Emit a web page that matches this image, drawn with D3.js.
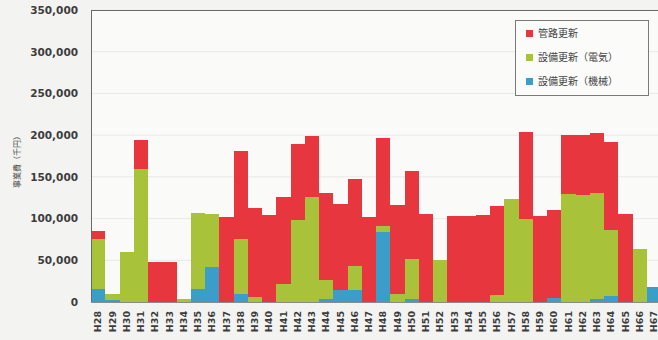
<!DOCTYPE html>
<html>
<head>
<meta charset="utf-8">
<script src="https://cdn.jsdelivr.net/npm/d3@7"></script>
<style>
  html, body { margin: 0; padding: 0; background: #f3f3f1; }
  svg { display: block; }
</style>
</head>
<body>
<svg id="chart" width="658" height="340"></svg>
<script>
// Fiscal years (Heisei era)
const years = ["H28","H29","H30","H31","H32","H33","H34","H35","H36","H37",
               "H38","H39","H40","H41","H42","H43","H44","H45","H46","H47",
               "H48","H49","H50","H51","H52","H53","H54","H55","H56","H57",
               "H58","H59","H60","H61","H62","H63","H64","H65","H66","H67"];

// 設備更新（機械）— thousand yen
const mechanical = [16000, 2000, 0, 0, 0, 0, 0, 16000, 42000, 0,
                    10000, 0, 0, 0, 0, 0, 4000, 14000, 14000, 0,
                    84000, 0, 4000, 0, 0, 0, 0, 0, 0, 0,
                    0, 0, 5000, 0, 0, 3000, 7000, 0, 0, 18000];

// 設備更新（電気）— thousand yen
const electrical = [59000, 7000, 60000, 159000, 0, 0, 4000, 91000, 64000, 0,
                    65000, 6000, 0, 22000, 98000, 126000, 22000, 0, 29000, 0,
                    7000, 10000, 47000, 0, 50000, 0, 0, 0, 8000, 123000,
                    100000, 0, 0, 130000, 128000, 128000, 79000, 0, 64000, 0];

// 管路更新 — thousand yen
const pipes = [10000, 0, 0, 35000, 48000, 48000, 0, 0, 0, 102000,
               106000, 107000, 104000, 104000, 91000, 73000, 105000, 104000, 105000, 102000,
               105000, 106000, 106000, 105000, 0, 103000, 103000, 104000, 107000, 0,
               104000, 103000, 105000, 70000, 72000, 71000, 106000, 105000, 0, 0];

const seriesNames = ["設備更新（機械）", "設備更新（電気）", "管路更新"];
const seriesColors = ["#3b9dca", "#a8c23a", "#e8363e"];
const legendOrder = ["管路更新", "設備更新（電気）", "設備更新（機械）"];
const yTicks = [0, 50000, 100000, 150000, 200000, 250000, 300000, 350000];

const rows = years.map((y, i) => ({
  year: y,
  "設備更新（機械）": mechanical[i],
  "設備更新（電気）": electrical[i],
  "管路更新": pipes[i]
}));

const svg = d3.select("#chart");
const margin = { left: 91, top: 10, right: -3, bottom: 38 };
const W = 658, H = 340;
const plotW = W - margin.left - margin.right;
const plotH = H - margin.top - margin.bottom;

const x = d3.scaleBand().domain(years).range([margin.left, margin.left + plotW]).padding(0);
const y = d3.scaleLinear().domain([0, 350000]).range([margin.top + plotH, margin.top]);
const color = d3.scaleOrdinal().domain(seriesNames).range(seriesColors);

// plot background
svg.append("rect")
  .attr("x", margin.left).attr("y", margin.top)
  .attr("width", plotW).attr("height", plotH)
  .attr("fill", "#fafaf9");

// faint horizontal gridlines
svg.append("g")
  .selectAll("line")
  .data(yTicks.slice(1))
  .join("line")
  .attr("x1", margin.left).attr("x2", margin.left + plotW)
  .attr("y1", d => y(d)).attr("y2", d => y(d))
  .attr("stroke", "#e9e9e7").attr("stroke-width", 1);

// stacked bars
const stacked = d3.stack().keys(seriesNames)(rows);
svg.append("g")
  .selectAll("g")
  .data(stacked)
  .join("g")
  .attr("fill", d => color(d.key))
  .selectAll("rect")
  .data(d => d)
  .join("rect")
  .attr("x", d => x(d.data.year))
  .attr("y", d => y(d[1]))
  .attr("width", x.bandwidth())
  .attr("height", d => y(d[0]) - y(d[1]))
  .attr("shape-rendering", "crispEdges");

// frame: top border and left axis line
svg.append("line")
  .attr("x1", margin.left).attr("x2", W)
  .attr("y1", margin.top + 0.5).attr("y2", margin.top + 0.5)
  .attr("stroke", "#6a6a6a").attr("stroke-width", 1);

// y axis
const yAxis = svg.append("g")
  .attr("transform", `translate(${margin.left},0)`)
  .call(d3.axisLeft(y).tickValues(yTicks).tickFormat(d3.format(",")).tickSize(0).tickPadding(13));
yAxis.select(".domain").attr("stroke", "#6a6a6a");
yAxis.selectAll("text")
  .attr("font-family", "'DejaVu Sans', Verdana, sans-serif")
  .attr("font-size", "10.5px")
  .attr("font-weight", "bold")
  .attr("fill", "#3c3c3c");

// x axis
const xAxis = svg.append("g")
  .attr("transform", `translate(0,${margin.top + plotH})`)
  .call(d3.axisBottom(x).tickSize(0).tickPadding(0));
xAxis.select(".domain").attr("stroke", "#8a8a8a");
xAxis.selectAll("text")
  .attr("font-family", "'DejaVu Sans', Verdana, sans-serif")
  .attr("font-size", "9.5px")
  .attr("font-weight", "bold")
  .attr("fill", "#3c3c3c")
  .attr("text-anchor", "end")
  .attr("dy", "0.35em")
  .attr("transform", "translate(0,9) rotate(-90)")
  .attr("x", 0).attr("y", 0);

// y axis title
svg.append("text")
  .attr("transform", "translate(17,160) rotate(-90)")
  .attr("text-anchor", "middle")
  .attr("dy", "0.35em")
  .attr("font-family", "'Noto Sans CJK JP', sans-serif")
  .attr("font-size", "8px")
  .attr("fill", "#444")
  .text("事業費（千円）");

// legend
const legend = svg.append("g").attr("transform", "translate(515,20)");
legend.append("rect")
  .attr("x", 0.5).attr("y", 0.5)
  .attr("width", 133).attr("height", 75)
  .attr("fill", "#fbfbfa")
  .attr("stroke", "#7a7a7a").attr("stroke-width", 1);
const item = legend.selectAll("g.item")
  .data(legendOrder)
  .join("g")
  .attr("class", "item")
  .attr("transform", (d, i) => `translate(11,${13 + i * 24})`);
item.append("rect")
  .attr("x", 0).attr("y", -3)
  .attr("width", 7).attr("height", 7)
  .attr("fill", d => color(d));
item.append("text")
  .attr("x", 12).attr("y", 0)
  .attr("dy", "0.35em")
  .attr("font-family", "'Noto Sans CJK JP', sans-serif")
  .attr("font-size", "10px")
  .attr("fill", "#444")
  .text(d => d);
</script>
</body>
</html>
